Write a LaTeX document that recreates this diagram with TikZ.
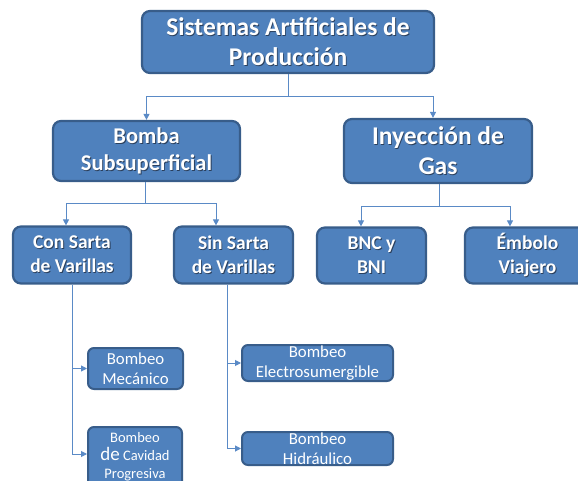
\documentclass[tikz,border=0pt]{standalone}
\usepackage{fontspec}
\setmainfont{Carlito}
\usetikzlibrary{arrows.meta}
\definecolor{boxfill}{HTML}{4F81BD}
\definecolor{boxline}{HTML}{385D8A}
\definecolor{conncol}{HTML}{5A8AC6}
\definecolor{shadowcol}{HTML}{2A3F5C}
\newcommand\shl[1]{\leavevmode\rlap{\kern0.9pt\raisebox{-0.9pt}{\textcolor{shadowcol}{#1}}}#1}
\tikzset{
  box/.style={draw=boxline, line width=2.2pt, fill=boxfill, rounded corners=8pt,
    text=white, align=center, inner sep=0pt, anchor=center},
  big/.style={box, font=\bfseries\fontsize{25.5}{30}\selectfont},
  mid/.style={box, font=\bfseries\fontsize{22.5}{27}\selectfont},
  small/.style={box, font=\bfseries\fontsize{19.5}{24}\selectfont},
  leaf/.style={box, line width=2pt, rounded corners=6pt, font=\fontsize{16.8}{20}\selectfont},
  conn/.style={draw=conncol, line width=1pt},
  arr/.style={conn, -{Triangle[length=6pt,width=6pt]}},
}
\begin{document}
\begin{tikzpicture}[x=1pt,y=-1pt]
\useasboundingbox (0,0) rectangle (578,481);
\clip (0,0) rectangle (578,481);
\node[big, minimum width=292, minimum height=62] (top) at (288,42) {\shl{Sistemas Artificiales de}\\\shl{Producción}};
\node[mid, minimum width=187, minimum height=60] (bomba) at (146.5,151) {\shl{Bomba}\\\shl{Subsuperficial}};
\node[big, minimum width=188, minimum height=64] (iny) at (438,151) {\shl{Inyección de}\\\shl{Gas}};
\node[small, minimum width=118, minimum height=57] (con) at (72,255) {\shl{Con Sarta}\\\shl{de Varillas}};
\node[small, minimum width=119, minimum height=57] (sin) at (233.5,255) {\shl{Sin Sarta}\\\shl{de Varillas}};
\node[small, minimum width=109, minimum height=56] (bnc) at (371.5,255.5) {\shl{BNC y}\\\shl{BNI}};
\node[small, minimum width=125, minimum height=56] (emb) at (527.5,255.5) {\shl{Émbolo}\\\shl{Viajero}};
\node[leaf, minimum width=95, minimum height=41] (mec) at (135.5,368.5) {Bombeo\\Mecánico};
\node[leaf, minimum width=94, minimum height=60, font=\fontsize{14.5}{18}\selectfont] (cav) at (135,457) {Bombeo\\{\fontsize{19}{18}\selectfont de} Cavidad\\Progresiva};
\node[leaf, minimum width=151, minimum height=36] (elec) at (317.5,363) {Bombeo\\Electrosumergible};
\node[leaf, minimum width=151, minimum height=33] (hid) at (317.5,448.5) {Bombeo\\Hidráulico};
% connectors
\coordinate (j1) at (288,97);
\draw[conn] (top.south) -- (j1);
\draw[arr] (j1) -| (bomba.north);
\draw[arr] (j1) -| ([xshift=-5pt]iny.north);
\coordinate (j2) at (145,204);
\draw[conn] ([xshift=-1.5pt]bomba.south) -- (j2);
\draw[arr] (j2) -| ([xshift=-6pt]con.north);
\draw[arr] (j2) -| ([xshift=-17.5pt]sin.north);
\coordinate (j3) at (439,207);
\draw[conn] ([xshift=1pt]iny.south) -- (j3);
\draw[arr] (j3) -| ([xshift=-10.5pt]bnc.north);
\draw[arr] (j3) -| ([xshift=-17.5pt]emb.north);
\coordinate (c1) at (72,368.5);
\coordinate (c2) at (72,454);
\draw[conn] (con.south) -- (c2);
\draw[arr] (c1) -- (mec.west);
\draw[arr] (c2) -- (c2 -| cav.west);
\coordinate (s1) at (227,363);
\coordinate (s2) at (227,448.5);
\draw[conn] (sin.south -| s1) -- (s2);
\draw[arr] (s1) -- (elec.west);
\draw[arr] (s2) -- (hid.west);
\end{tikzpicture}
\end{document}
